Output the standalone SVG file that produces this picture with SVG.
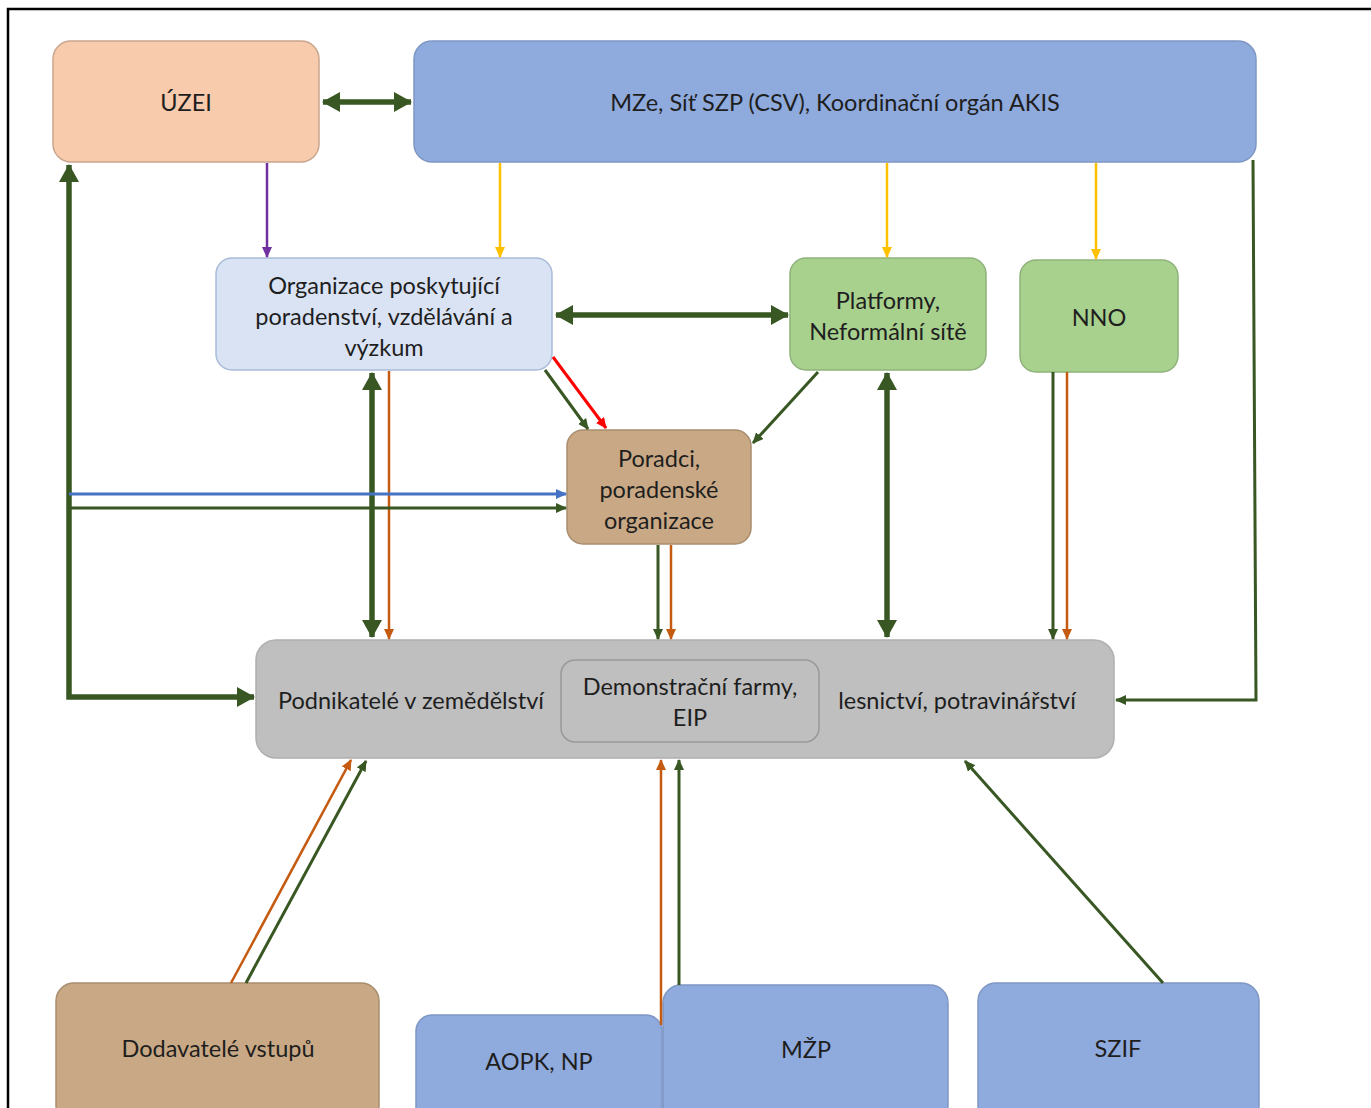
<svg xmlns="http://www.w3.org/2000/svg" width="1371" height="1108" viewBox="0 0 1371 1108">
<style>
text{font-family:Lato,"Open Sans","Liberation Sans",sans-serif;font-size:23.5px;fill:#1e1e1e;text-anchor:middle;dominant-baseline:central}
.c{fill:none}
.thick{stroke:#385723;stroke-width:5.5}
.g{stroke:#385723;stroke-width:3}
.o{stroke:#c55a11;stroke-width:2.5}
.y{stroke:#ffc000;stroke-width:2.5}
.p{stroke:#7030a0;stroke-width:2.5}
.b{stroke:#4472c4;stroke-width:3}
.r{stroke:#ff0000;stroke-width:3}
</style>
<defs>
<marker id="mT" markerUnits="userSpaceOnUse" markerWidth="18" markerHeight="20" refX="17" refY="10" orient="auto-start-reverse"><path d="M0,0 L18,10 L0,20 z" fill="#385723"/></marker>
<marker id="mG" markerUnits="userSpaceOnUse" markerWidth="11" markerHeight="10" refX="10" refY="5" orient="auto-start-reverse"><path d="M0,0 L11,5 L0,10 z" fill="#385723"/></marker>
<marker id="mO" markerUnits="userSpaceOnUse" markerWidth="11" markerHeight="10" refX="10" refY="5" orient="auto"><path d="M0,0 L11,5 L0,10 z" fill="#c55a11"/></marker>
<marker id="mY" markerUnits="userSpaceOnUse" markerWidth="11" markerHeight="10" refX="10" refY="5" orient="auto"><path d="M0,0 L11,5 L0,10 z" fill="#ffc000"/></marker>
<marker id="mP" markerUnits="userSpaceOnUse" markerWidth="11" markerHeight="10" refX="10" refY="5" orient="auto"><path d="M0,0 L11,5 L0,10 z" fill="#7030a0"/></marker>
<marker id="mB" markerUnits="userSpaceOnUse" markerWidth="11" markerHeight="10" refX="10" refY="5" orient="auto"><path d="M0,0 L11,5 L0,10 z" fill="#4472c4"/></marker>
<marker id="mR" markerUnits="userSpaceOnUse" markerWidth="11" markerHeight="10" refX="10" refY="5" orient="auto"><path d="M0,0 L11,5 L0,10 z" fill="#ff0000"/></marker>
</defs>
<rect x="0" y="0" width="1371" height="1108" fill="#ffffff"/>
<path d="M8,1108 V9 H1371" fill="none" stroke="#000" stroke-width="2.5"/>

<g id="node-uzei"><rect x="53" y="41" width="266" height="121" rx="18" fill="#f8cbad" stroke="#c9a58e" stroke-width="1.5"/><text x="186" y="102">ÚZEI</text></g>
<g id="node-mze"><rect x="414" y="41" width="842" height="121" rx="18" fill="#8faadc" stroke="#7f97c4" stroke-width="1.5"/><text x="835" y="102">MZe, Síť SZP (CSV), Koordinační orgán AKIS</text></g>
<g id="node-org"><rect x="216" y="258" width="336" height="112" rx="16" fill="#dae3f3" stroke="#a9bbd9" stroke-width="1.5"/><text x="384" y="285">Organizace poskytující</text><text x="384" y="316">poradenství, vzdělávání a</text><text x="384" y="347">výzkum</text></g>
<g id="node-plat"><rect x="790" y="258" width="196" height="112" rx="16" fill="#a9d18e" stroke="#8fb27a" stroke-width="1.5"/><text x="888" y="300">Platformy,</text><text x="888" y="331">Neformální sítě</text></g>
<g id="node-nno"><rect x="1020" y="260" width="158" height="112" rx="16" fill="#a9d18e" stroke="#8fb27a" stroke-width="1.5"/><text x="1099" y="317">NNO</text></g>
<g id="node-poradci"><rect x="567" y="430" width="184" height="114" rx="16" fill="#c9a985" stroke="#a88d6e" stroke-width="1.5"/><text x="659" y="458">Poradci,</text><text x="659" y="489">poradenské</text><text x="659" y="520">organizace</text></g>
<g id="node-podnik"><rect x="256" y="640" width="858" height="118" rx="20" fill="#bfbfbf" stroke="#afafaf" stroke-width="1.5"/><text x="411" y="700">Podnikatelé v zemědělství</text><text x="957" y="700">lesnictví, potravinářství</text></g>
<g id="node-demo"><rect x="561" y="660" width="258" height="82" rx="14" fill="#bfbfbf" stroke="#999999" stroke-width="1.5"/><text x="690" y="686">Demonstrační farmy,</text><text x="690" y="717">EIP</text></g>
<g id="node-dod"><rect x="56" y="983" width="323" height="140" rx="18" fill="#c9a985" stroke="#a88d6e" stroke-width="1.5"/><text x="218" y="1048">Dodavatelé vstupů</text></g>
<g id="node-aopk"><rect x="416" y="1015" width="246" height="108" rx="16" fill="#8faadc" stroke="#7f97c4" stroke-width="1.5"/><text x="539" y="1061">AOPK, NP</text></g>
<g id="node-mzp"><rect x="663" y="985" width="285" height="138" rx="18" fill="#8faadc" stroke="#7f97c4" stroke-width="1.5"/><text x="806" y="1049">MŽP</text></g>
<g id="node-szif"><rect x="978" y="983" width="281" height="140" rx="18" fill="#8faadc" stroke="#7f97c4" stroke-width="1.5"/><text x="1118" y="1048">SZIF</text></g>

<g id="connectors">
<path class="c thick" d="M323,102 H411" marker-start="url(#mT)" marker-end="url(#mT)"/>
<path class="c p" d="M267,163 V257" marker-end="url(#mP)"/>
<path class="c y" d="M500,163 V257" marker-end="url(#mY)"/>
<path class="c y" d="M887,163 V257" marker-end="url(#mY)"/>
<path class="c y" d="M1096,163 V259" marker-end="url(#mY)"/>
<path class="c thick" d="M556,315 H788" marker-start="url(#mT)" marker-end="url(#mT)"/>
<path class="c g" d="M545,370 L588,429" marker-end="url(#mG)"/>
<path class="c r" d="M553,357 L606,428" marker-end="url(#mR)"/>
<path class="c g" d="M818,372 L753,443" marker-end="url(#mG)"/>
<path class="c thick" d="M372,373 V637" marker-start="url(#mT)" marker-end="url(#mT)"/>
<path class="c o" d="M389,371 V639" marker-end="url(#mO)"/>
<path class="c thick" d="M887,373 V637" marker-start="url(#mT)" marker-end="url(#mT)"/>
<path class="c g" d="M1053,372 V639" marker-end="url(#mG)"/>
<path class="c o" d="M1067,372 V639" marker-end="url(#mO)"/>
<path class="c g" d="M658,545 V639" marker-end="url(#mG)"/>
<path class="c o" d="M671,545 V639" marker-end="url(#mO)"/>
<path class="c thick" d="M69,165 V697 H254" stroke-linejoin="miter" marker-start="url(#mT)" marker-end="url(#mT)"/>
<path class="c b" d="M69,494 H566" marker-end="url(#mB)"/>
<path class="c g" d="M69,508 H566" marker-end="url(#mG)"/>
<path class="c g" d="M1253,160 L1256,700 H1116" marker-end="url(#mG)"/>
<path class="c o" d="M231,983 L351,760" marker-end="url(#mO)"/>
<path class="c g" d="M246,983 L366,761" marker-end="url(#mG)"/>
<path class="c o" d="M661,1025 V760" marker-end="url(#mO)"/>
<path class="c g" d="M679,985 V760" marker-end="url(#mG)"/>
<path class="c g" d="M1163,983 L965,761" marker-end="url(#mG)"/>
</g>
</svg>
